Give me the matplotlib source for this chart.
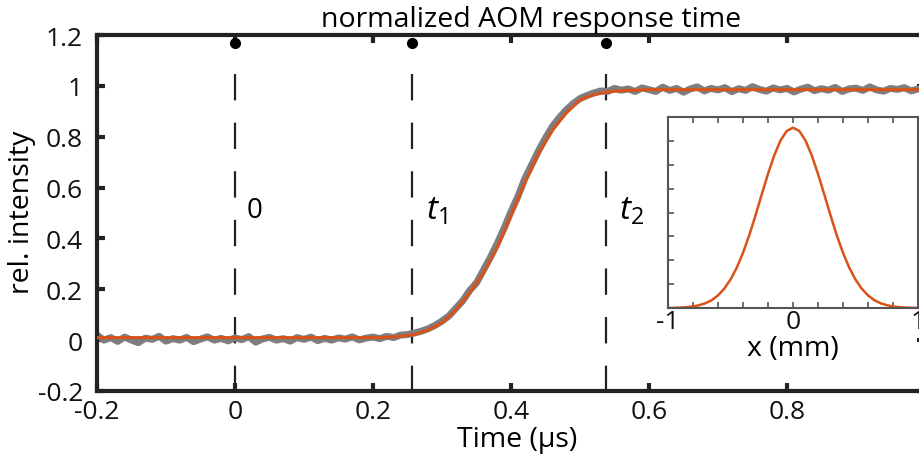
#!/usr/bin/env python3
"""Normalized AOM response time with beam profile inset."""

import matplotlib
matplotlib.use("Agg")
import matplotlib.pyplot as plt
import numpy as np

plt.rcParams["font.family"] = ["Open Sans", "DejaVu Sans"]
plt.rcParams["mathtext.fontset"] = "custom"
plt.rcParams["mathtext.rm"] = "Open Sans"
plt.rcParams["mathtext.it"] = "Open Sans:italic"
plt.rcParams["lines.scale_dashes"] = False

# measured trace (gray), sampled every 0.01 us from -0.2 to 1.0
trace_y = [
    0.020, 0.000, 0.010, -0.005, 0.012, 0.000, -0.010, 0.008, 0.003, 0.015,
    -0.004, 0.006, 0.000, 0.011, -0.006, 0.004, 0.013, 0.000, 0.007, -0.003,
    0.009, 0.002, 0.014, -0.008, 0.005, 0.011, 0.000, 0.006, -0.004, 0.010,
    0.003, 0.012, -0.002, 0.007, 0.000, 0.009, 0.004, 0.013, 0.001, 0.008,
    0.012, 0.006, 0.015, 0.010, 0.020, 0.022, 0.028, 0.035, 0.045, 0.058,
    0.075, 0.095, 0.125, 0.155, 0.195, 0.225, 0.275, 0.325, 0.380, 0.440,
    0.505, 0.565, 0.635, 0.690, 0.745, 0.795, 0.840, 0.875, 0.905, 0.930,
    0.950, 0.962, 0.972, 0.980, 0.978, 0.990, 0.983, 0.988, 0.978, 0.992,
    0.985, 0.978, 0.995, 0.982, 0.990, 0.975, 0.988, 0.996, 0.980, 0.990,
    0.984, 0.993, 0.977, 0.989, 0.982, 0.997, 0.986, 0.979, 0.992, 0.984,
    0.990, 0.976, 0.987, 0.995, 0.981, 0.989, 0.983, 0.994, 0.978, 0.988,
    0.991, 0.982, 0.996, 0.984, 0.979, 0.990, 0.986, 0.993, 0.980, 0.988,
    0.985,
]

# fitted response (orange), sampled every 0.02 us from -0.2 to 1.0
fit_y = [
    0.010, 0.010, 0.010, 0.010, 0.010, 0.010, 0.010, 0.010, 0.010, 0.010,
    0.010, 0.010, 0.010, 0.010, 0.010, 0.010, 0.010, 0.010, 0.010, 0.010,
    0.010, 0.011, 0.015, 0.022, 0.040, 0.068, 0.118, 0.185, 0.265, 0.365,
    0.490, 0.620, 0.735, 0.825, 0.893, 0.945, 0.965, 0.976, 0.981, 0.983,
    0.985, 0.985, 0.985, 0.985, 0.985, 0.985, 0.985, 0.985, 0.985, 0.985,
    0.985, 0.985, 0.985, 0.985, 0.985, 0.985, 0.985, 0.985, 0.985, 0.985,
    0.985,
]

marker_times = [0.0, 0.256, 0.538]
marker_labels = ["0", "$t_1$", "$t_2$"]

x_ticks = [-0.2, 0.0, 0.2, 0.4, 0.6, 0.8, 1.0]
x_ticklabels = ["-0.2", "0", "0.2", "0.4", "0.6", "0.8", "1"]
y_ticks = [-0.2, 0.0, 0.2, 0.4, 0.6, 0.8, 1.0, 1.2]
y_ticklabels = ["-0.2", "0", "0.2", "0.4", "0.6", "0.8", "1", "1.2"]

# beam profile for the inset, every 0.05 mm from -1 to 1
profile_y = [
    0.0005, 0.001, 0.002, 0.0045, 0.008, 0.015, 0.025, 0.041, 0.066, 0.101,
    0.149, 0.211, 0.289, 0.381, 0.485, 0.595, 0.702, 0.799, 0.877, 0.927,
    0.944,
    0.927, 0.877, 0.799, 0.702, 0.595, 0.485, 0.381, 0.289, 0.211, 0.149,
    0.101, 0.066, 0.041, 0.025, 0.015, 0.008, 0.0045, 0.002, 0.001, 0.0005,
]

ORANGE = "#d95319"
GRAY = "#7d7d82"
INK = "#222222"

trace_x = np.linspace(-0.2, 1.0, len(trace_y))
fit_x = np.linspace(-0.2, 1.0, len(fit_y))
profile_x = np.linspace(-1.0, 1.0, len(profile_y))

fig = plt.figure(figsize=(9.2, 4.56), dpi=100)
ax = fig.add_axes([97 / 920, 64 / 456, 828 / 920, 356 / 456])

ax.plot(trace_x, trace_y, color=GRAY, linewidth=5, zorder=2)
ax.plot(fit_x, fit_y, color=ORANGE, linewidth=2.2, zorder=3)

for t, lab in zip(marker_times, marker_labels):
    ax.plot([t, t], [1.045, -0.2], color=INK, linewidth=1.6,
            dashes=(19, 16), zorder=1)
    ax.plot(t, 1.17, "o", color="black", markersize=7, zorder=4)
for t, lab in zip(marker_times, marker_labels):
    size = 20 if lab == "0" else 24
    dx = 0.028 if lab == "0" else 0.036
    ax.text(t + dx, 0.51, lab, fontsize=size, ha="center", va="center",
            color="black")

ax.set_xlim(-0.2, 1.0)
ax.set_ylim(-0.2, 1.2)
ax.set_xticks(x_ticks, x_ticklabels)
ax.set_yticks(y_ticks, y_ticklabels)
ax.tick_params(direction="in", length=6, width=3, color=INK, labelsize=19,
               top=True, right=True, labelcolor="#111111")
ax.tick_params(axis="x", pad=6)
ax.tick_params(axis="y", pad=10)
for side in ax.spines.values():
    side.set_linewidth(3)
    side.set_color(INK)

fig.text(22 / 920, 0.535, "rel. intensity", rotation=90, ha="center",
         va="center", fontsize=20.5)
fig.text(517 / 920, 0.036, "Time (µs)", ha="center", va="center",
         fontsize=20.5)
fig.text(531 / 920, 0.94, "normalized AOM response time", ha="center",
         va="baseline", fontsize=20.5)

# inset
ins = fig.add_axes([668 / 920, 147 / 456, 250 / 920, 191 / 456])
ins.plot(profile_x, profile_y, color=ORANGE, linewidth=1.8)
ins.set_xlim(-1, 1)
ins.set_ylim(0, 1)
ins.set_xticks([-1, 0, 1], ["-1", "0", "1"])
ins.set_xticks(np.arange(-1, 1.01, 0.2), minor=True)
ins.set_yticks(np.arange(0, 1.01, 0.125), [])
ins.tick_params(direction="in", length=4, width=1.2, color="#555555",
                labelsize=19, top=True, pad=1, labelcolor="#111111")
ins.tick_params(which="minor", direction="in", length=4, width=1.2,
                color="#555555", top=True)
for side in ins.spines.values():
    side.set_linewidth(1.5)
    side.set_color("#555555")
ins.set_xlabel("x (mm)", fontsize=20.5, labelpad=0)

fig.savefig("out.png", dpi=100)
